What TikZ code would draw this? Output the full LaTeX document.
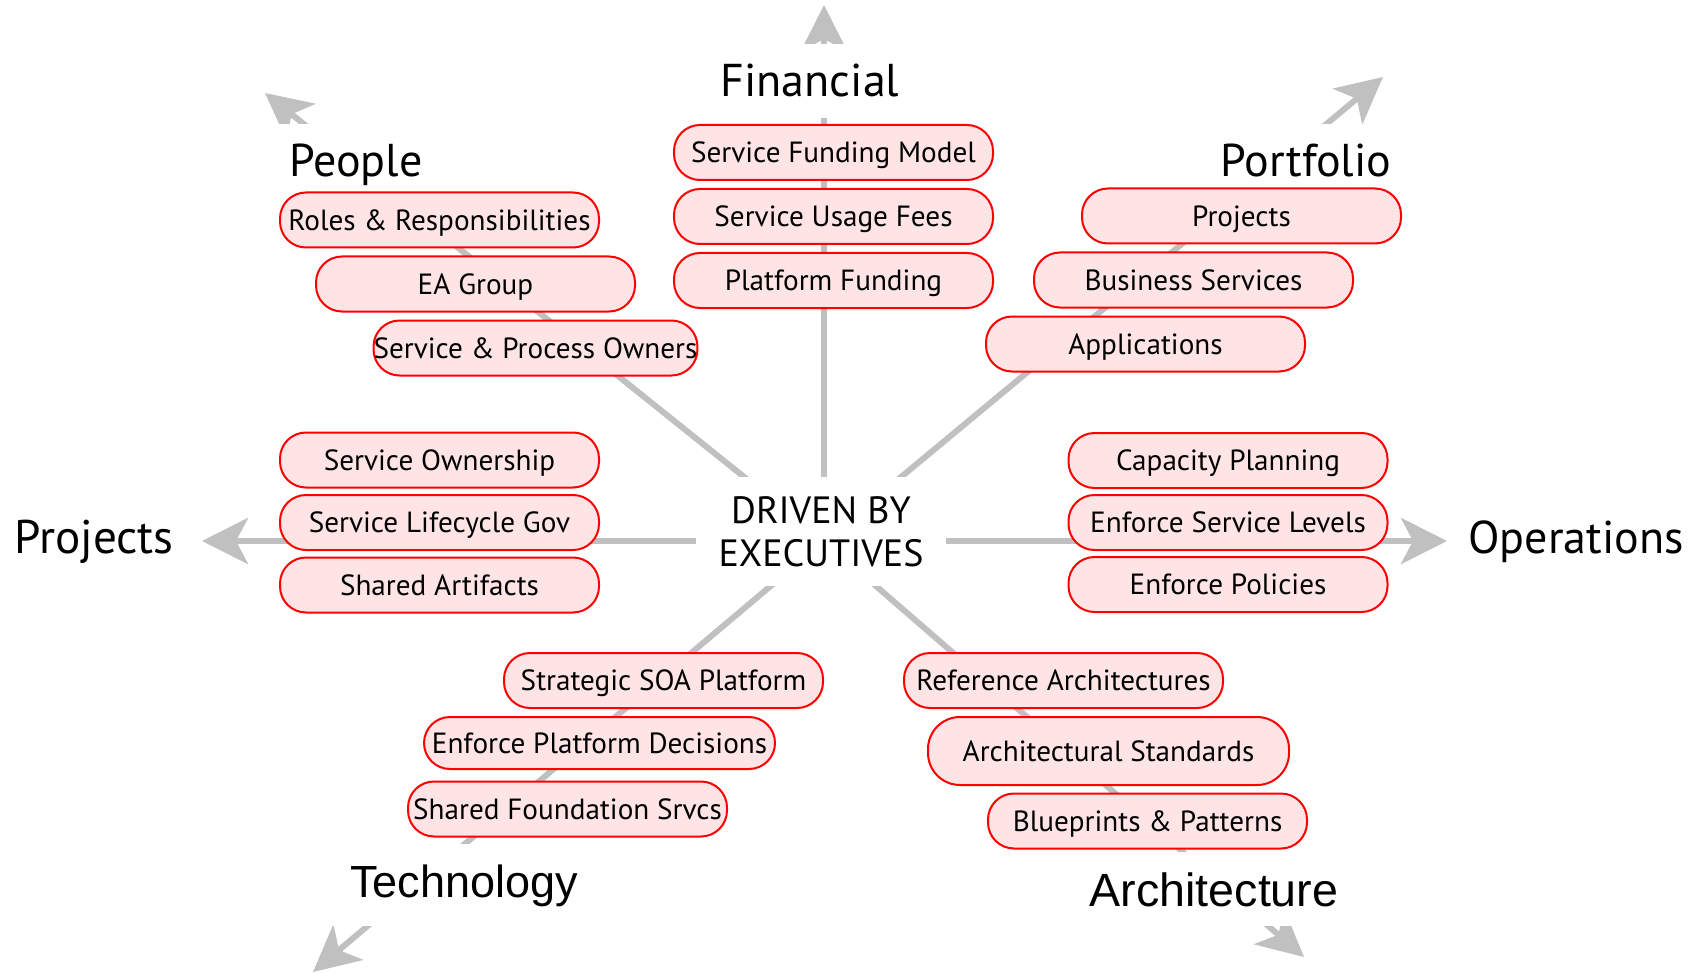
\documentclass[tikz,border=0pt]{standalone}
\usepackage{fontspec}
\setmainfont{PT Sans}
\newfontfamily\arialfont{Liberation Sans}
\usetikzlibrary{arrows.meta,positioning}
\definecolor{spokegray}{HTML}{C0C0C0}
\definecolor{pillfill}{HTML}{FFE4E6}
\definecolor{pillline}{HTML}{FF0000}

\begin{document}
\begin{tikzpicture}[x=0.5pt,y=-0.5pt,on grid,
    spoke/.style={draw=spokegray,line width=3pt,-{Stealth[length=23pt,width=23pt,inset=6pt]}},
    pill/.style={draw=pillline,fill=pillfill,line width=1pt,rounded corners=13pt,
      minimum width=159.5pt,minimum height=27.5pt,inner xsep=0pt,
      text height=11.4pt,text depth=1.2pt,
      font=\fontsize{14.6pt}{17pt}\selectfont},
    dimlabel/.style={fill=white,inner sep=10pt,anchor=base,font=\fontsize{23pt}{27pt}\selectfont},
    hubtext/.style={fill=white,align=center,inner sep=0pt,minimum width=125pt,minimum height=54.5pt,
      font=\fontsize{19pt}{21.5pt}\selectfont}]
  \useasboundingbox (0,0) rectangle (1702,973);

  % spokes out of the hub
  \coordinate (hub) at (824,541);
  \coordinate (finTip) at (824,5);
  \coordinate (peoTip) at (265,93);
  \coordinate (porTip) at (1383,77);
  \coordinate (prjTip) at (202,541);
  \coordinate (opsTip) at (1447,541);
  \coordinate (tecTip) at (313,972);
  \coordinate (arcTip) at (1304,957);
  \draw[spoke] (hub) -- (finTip);
  \draw[spoke] (hub) -- (peoTip);
  \draw[spoke] (hub) -- (porTip);
  \draw[spoke] (hub) -- (prjTip);
  \draw[spoke] (hub) -- (opsTip);
  \draw[spoke] (hub) -- (tecTip);
  \draw[spoke] (hub) -- (arcTip);

  \node[hubtext] (drivers) at (821,531.5) {DRIVEN BY\\EXECUTIVES};

  % areas
  \node[dimlabel] (financial) at (810,97) {Financial};
  \node[dimlabel] (people) at (356,177) {People};
  \node[dimlabel] (portfolio) at (1306,177) {Portfolio};
  \node[dimlabel,font=\fontsize{23.6pt}{27pt}\selectfont] (projects) at (94,553) {Projects};
  \node[dimlabel] (operations) at (1576,553) {Operations};
  \node[dimlabel,font=\arialfont\fontsize{22.5pt}{27pt}\selectfont] (technology) at (464,897) {Technology};
  \node[dimlabel,font=\arialfont\fontsize{23.3pt}{27pt}\selectfont] (architecture) at (1214,906) {Architecture};

  % Financial
  \node[pill] (fin_1) at (833.5,152.5) {Service Funding Model};
  \node[pill] (fin_2) [below=32pt of fin_1] {Service Usage Fees};
  \node[pill] (fin_3) [below=32pt of fin_2] {Platform Funding};

  % People
  \node[pill] (peo_1) at (439.5,220) {Roles \& Responsibilities};
  \node[pill] (peo_2) [below right=32pt and 18pt of peo_1] {EA Group};
  \node[pill] (peo_3) [below right=32pt and 30pt of peo_2] {Service \& Process Owners};

  % Portfolio
  \node[pill] (por_1) at (1241.5,216) {Projects};
  \node[pill] (por_2) [below left=32pt and 24pt of por_1] {Business Services};
  \node[pill] (por_3) [below left=32pt and 24pt of por_2] {Applications};

  % Projects
  \node[pill] (prj_1) at (439.5,460) {Service Ownership};
  \node[pill] (prj_2) [below=31.25pt of prj_1] {Service Lifecycle Gov};
  \node[pill] (prj_3) [below=31.25pt of prj_2] {Shared Artifacts};

  % Operations
  \node[pill] (ops_1) at (1228,460.5) {Capacity Planning};
  \node[pill] (ops_2) [below=31pt of ops_1] {Enforce Service Levels};
  \node[pill] (ops_3) [below=31pt of ops_2] {Enforce Policies};

  % Technology
  \node[pill] (tec_1) at (663.5,680.5) {Strategic SOA Platform};
  \node[pill,minimum width=175.5pt,minimum height=26pt] (tec_2) [below left=31.25pt and 32pt of tec_1] {Enforce Platform Decisions};
  \node[pill] (tec_3) [below left=33pt and 16pt of tec_2] {Shared Foundation Srvcs};

  % Architecture
  \node[pill] (arc_1) at (1063.5,680.5) {Reference Architectures};
  \node[pill,minimum width=180.5pt,minimum height=34pt,rounded corners=16pt] (arc_2) [below right=35.25pt and 22.5pt of arc_1] {Architectural Standards};
  \node[pill] (arc_3) [below right=35pt and 19.5pt of arc_2] {Blueprints \& Patterns};
\end{tikzpicture}
\end{document}
